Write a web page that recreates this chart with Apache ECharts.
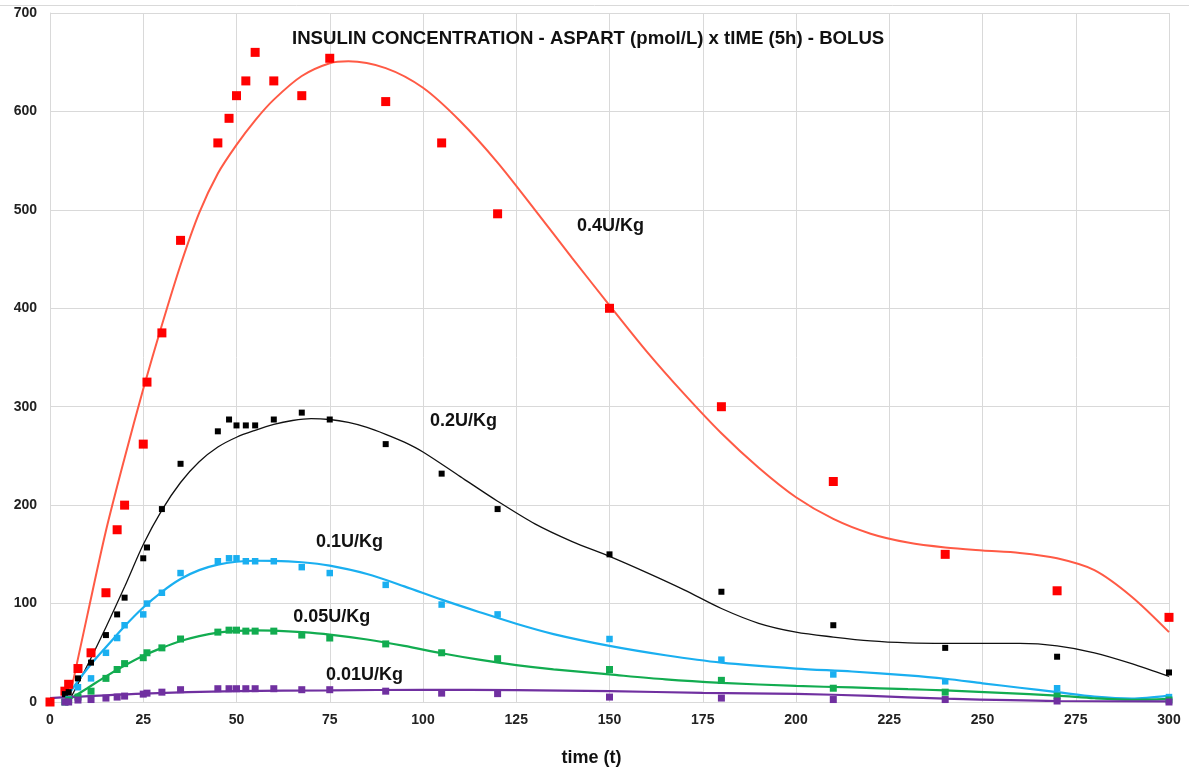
<!DOCTYPE html>
<html>
<head>
<meta charset="utf-8">
<script src="https://cdn.jsdelivr.net/npm/echarts@6/dist/echarts.min.js"></script>
<style>
html,body{margin:0;padding:0;background:#fff;}
#chart{width:1189px;height:772px;}
</style>
</head>
<body>
<div id="chart"></div>
<script>
// ---- Data ----
const titleText = 'INSULIN CONCENTRATION - ASPART (pmol/L) x tIME (5h) - BOLUS';
const xAxisName = 'time (t)';
const seriesNames = ['0.4U/Kg', '0.2U/Kg', '0.1U/Kg', '0.05U/Kg', '0.01U/Kg'];

// measured points [time, concentration]
const pts04 = [[0,0],[4,11],[5,18],[7.5,34],[11,50],[15,111],[18,175],[20,200],[25,262],[26,325],[30,375],[35,469],[45,568],[48,593],[50,616],[52.5,631],[55,660],[60,631],[67.5,616],[75,654],[90,610],[105,568],[120,496],[150,400],[180,300],[210,224],[240,150],[270,113],[300,86]];
const pts02 = [[4,8],[5,10],[7.5,24],[11,40],[15,68],[18,89],[20,106],[25,146],[26,157],[30,196],[35,242],[45,275],[48,287],[50,281],[52.5,281],[55,281],[60,287],[67.5,294],[75,287],[90,262],[105,232],[120,196],[150,150],[180,112],[210,78],[240,55],[270,46],[300,30]];
const pts01 = [[4,0],[5,3],[7.5,15],[11,24],[15,50],[18,65],[20,78],[25,89],[26,100],[30,111],[35,131],[45,143],[48,146],[50,146],[52.5,143],[55,143],[60,143],[67.5,137],[75,131],[90,119],[105,99],[120,89],[150,64],[180,43],[210,28],[240,21],[270,14],[300,5]];
const pts005 = [[4,0],[5,2],[7.5,5],[11,11],[15,24],[18,33],[20,39],[25,45],[26,50],[30,55],[35,64],[45,71],[48,73],[50,73],[52.5,72],[55,72],[60,72],[67.5,68],[75,65],[90,59],[105,50],[120,44],[150,33],[180,22],[210,14],[240,10],[270,6],[300,2]];
const pts001 = [[4,0],[5,0],[7.5,2],[11,2.5],[15,4],[18,5],[20,6],[25,8],[26,9],[30,10],[35,12.5],[45,13.5],[48,13.5],[50,13.5],[52.5,13.5],[55,13.5],[60,13.5],[67.5,12.5],[75,12.5],[90,11],[105,9],[120,8.5],[150,5],[180,4],[210,2.5],[240,2.5],[270,1],[300,0]];

// trend lines [time, concentration]
const trend04 = [[5,0],[10,88],[15,174],[20,248],[25,318],[30,383],[35,444],[40,497],[45,537],[50,566],[55,591],[60,612],[67.5,636],[75,649],[80,651],[90,644],[100,624],[110,590],[120,548],[130,500],[140,451],[150,403],[160,356],[170,313],[180,273],[190,238],[200,208],[210,186],[220,171],[230,162],[240,157],[250,154],[260,151.5],[270,146],[280,134],[290,107],[300,71]];
const trend02 = [[5,0],[10,37],[15,76],[20,117],[25,160],[30,195],[35,223],[40,244],[45,259],[50,269],[55,276],[60,282],[65,286],[70,288],[75,287],[80,284],[85,279],[90,272],[95,264],[100,254],[110,229],[120,204],[130,181],[140,163],[150,148],[160,131.5],[170,114],[180,95],[190,80],[200,71],[210,66],[220,62],[230,60],[240,59.5],[250,59.5],[260,59.5],[270,57],[280,50],[290,39],[300,26]];
const trend01 = [[4,2],[8,24],[12,43],[16,60],[20,77],[25,96],[30,112],[35,125],[40,134],[45,139.5],[50,142.5],[55,143.5],[60,143.4],[67.5,142],[75,138.5],[85,130],[95,117.5],[105,104],[115,91.5],[125,79.5],[135,69],[150,57],[165,47.5],[180,40],[200,34],[215,31],[230,27],[240,23.6],[250,19],[260,14.5],[270,10],[280,5.5],[290,3.5],[300,6.5]];
const trend005 = [[4.5,1],[10,14],[15,26],[20,37],[25,47],[30,55],[35,62],[40,67],[45,70.5],[50,72.3],[55,72.8],[60,72.5],[67.5,71],[75,68.5],[85,63.5],[95,57],[105,49.5],[115,43],[125,37.5],[135,33.2],[150,28],[165,23],[180,19.5],[200,16.3],[215,14.8],[230,13],[240,11.8],[255,9.3],[270,6.5],[280,3.8],[290,2.3],[300,3.2]];
const trend001 = [[0,4],[25,8.5],[50,11],[75,11.8],[100,12.4],[125,12],[150,11],[175,9.3],[200,8.3],[220,6.2],[240,3.4],[270,1],[300,0.7]];

// label anchors [time, concentration] for the dose labels
const labelAnchors = [[141.3,484],[101.9,285.7],[71.3,163],[65.2,86.7],[74,27]];

const xTicks = {min:0, max:300, interval:25};
const yTicks = {min:0, max:700, interval:100};

// ---- Chart ----
const colors = {
  mk: ['#ff0000', '#000000', '#1aaff0', '#12ac50', '#7030a0'],
  ln: ['#ff5a45', '#111111', '#1aaff0', '#12ac50', '#7030a0'],
  lw: [2, 1.3, 2.2, 2.2, 2.2],
  ms: [9, 6, 6.5, 7, 7]
};
const pointSets = [pts04, pts02, pts01, pts005, pts001];
const trendSets = [trend04, trend02, trend01, trend005, trend001];
const FONT = 'Liberation Sans, Arial, sans-serif';

const series = [];
for (let i = 0; i < 5; i++) {
  series.push({
    type: 'line', name: seriesNames[i] + ' trend', data: trendSets[i],
    smooth: 0.3, showSymbol: false, symbol: 'none', z: 2,
    lineStyle: {color: colors.ln[i], width: colors.lw[i]}
  });
}
for (let i = 0; i < 5; i++) {
  series.push({
    type: 'scatter', name: seriesNames[i], data: pointSets[i],
    symbol: 'rect', symbolSize: colors.ms[i], z: 3,
    itemStyle: {color: colors.mk[i], opacity: 1}
  });
}
series.push({
  type: 'scatter', name: 'labels', symbolSize: 0, z: 4, silent: true,
  itemStyle: {opacity: 1},
  data: labelAnchors.map((p, i) => ({value: p, name: seriesNames[i]})),
  label: {
    show: true, position: 'right', distance: 0, opacity: 1,
    formatter: p => p.name,
    fontFamily: FONT, fontWeight: 'bold', fontSize: 18, color: '#111'
  }
});

const chart = echarts.init(document.getElementById('chart'), null, {renderer: 'canvas'});
chart.setOption({
  animation: false,
  backgroundColor: '#ffffff',
  title: {
    text: titleText, left: 292, top: 29, padding: 0,
    textStyle: {fontFamily: FONT, fontWeight: 'bold', fontSize: 18.6, color: '#111'}
  },
  graphic: [{
    type: 'rect', silent: true, z: -1,
    shape: {x: -2, y: 5.5, width: 1193, height: 770},
    style: {fill: 'none', stroke: '#d9d9d9', lineWidth: 1}
  }],
  grid: {left: 50, right: 20, top: 13, bottom: 67},
  xAxis: {
    type: 'value', min: xTicks.min, max: xTicks.max, interval: xTicks.interval,
    name: xAxisName, nameLocation: 'middle', nameGap: 47,
    nameTextStyle: {fontFamily: FONT, fontWeight: 'bold', fontSize: 18, color: '#111', padding: [0, 36, 0, 0]},
    axisLine: {show: true, lineStyle: {color: '#d9d9d9', width: 1}},
    axisTick: {show: false},
    splitLine: {show: true, lineStyle: {color: '#d9d9d9', width: 1}},
    axisLabel: {fontFamily: FONT, fontWeight: 'bold', fontSize: 14, color: '#222', margin: 11}
  },
  yAxis: {
    type: 'value', min: yTicks.min, max: yTicks.max, interval: yTicks.interval,
    axisLine: {show: true, lineStyle: {color: '#d9d9d9', width: 1}},
    axisTick: {show: false},
    splitLine: {show: true, lineStyle: {color: '#d9d9d9', width: 1}},
    axisLabel: {fontFamily: FONT, fontWeight: 'bold', fontSize: 14, color: '#222', margin: 13}
  },
  series: series
});
</script>
</body>
</html>
